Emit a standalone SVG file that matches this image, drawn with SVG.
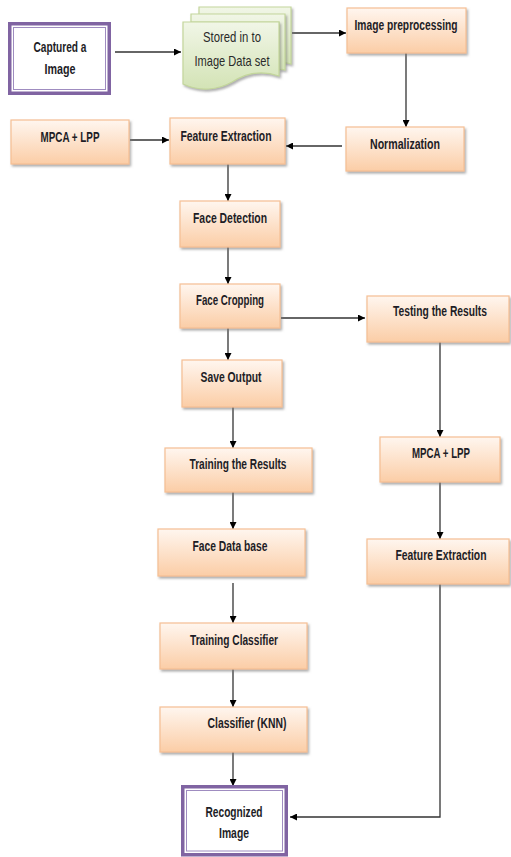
<svg xmlns="http://www.w3.org/2000/svg" width="511" height="857" viewBox="0 0 511 857">
<defs>
<style>
.box{fill:url(#og);stroke:#f6bf93;stroke-width:1.2;filter:url(#sh)}
.doc{fill:url(#gg);stroke:#c3d69b;stroke-width:1.2;filter:url(#sh)}
.t{font-family:"Liberation Sans",Arial,sans-serif;font-weight:bold;font-size:15px;fill:#1d1d26;text-anchor:middle}
.s{font-size:11.5px}
.n{font-weight:normal;fill:#2a2a2a}
.po{fill:#fff;stroke:#8064a2;stroke-width:3.5}
.pi{fill:none;stroke:#9f8cc0;stroke-width:1}
.c{fill:none;stroke:#333;stroke-width:1.3}
.a{marker-end:url(#ah)}
</style>
<linearGradient id="og" x1="0" y1="0" x2="0" y2="1">
<stop offset="0" stop-color="#fff6ef"/>
<stop offset="1" stop-color="#fbcda6"/>
</linearGradient>
<linearGradient id="gg" x1="0" y1="0" x2="0" y2="1">
<stop offset="0" stop-color="#f1f6e7"/>
<stop offset="1" stop-color="#d3e3b5"/>
</linearGradient>
<filter id="sh" x="-10%" y="-10%" width="130%" height="130%">
<feDropShadow dx="1.5" dy="2" stdDeviation="0.8" flood-color="#7a7a7a" flood-opacity="0.6"/>
</filter>
<marker id="ah" viewBox="0 0 10 10" refX="10" refY="5" markerWidth="7" markerHeight="7" markerUnits="userSpaceOnUse" orient="auto">
<path d="M0,0 L10,5 L0,10 Z" fill="#000"/>
</marker>
</defs>
<rect width="511" height="857" fill="#fff"/>

<g id="connectors">
<line class="c a" x1="115" y1="52" x2="181" y2="52"/>
<line class="c a" x1="292" y1="33" x2="346" y2="33"/>
<line class="c a" x1="406" y1="53" x2="406" y2="127"/>
<line class="c a" x1="342" y1="146" x2="286" y2="146"/>
<line class="c a" x1="130" y1="140" x2="169" y2="140"/>
<line class="c a" x1="228" y1="164" x2="228" y2="201"/>
<line class="c a" x1="228" y1="247" x2="228" y2="284"/>
<line class="c a" x1="281" y1="318" x2="365" y2="318"/>
<line class="c a" x1="228" y1="328" x2="228" y2="360"/>
<line class="c a" x1="233" y1="407" x2="233" y2="448"/>
<line class="c a" x1="233" y1="492" x2="233" y2="529"/>
<line class="c a" x1="233" y1="583" x2="233" y2="623"/>
<line class="c a" x1="233" y1="669" x2="233" y2="707"/>
<line class="c a" x1="233" y1="752" x2="233" y2="786"/>
<line class="c a" x1="440" y1="342" x2="440" y2="437"/>
<line class="c a" x1="440" y1="482" x2="440" y2="539"/>
<path class="c a" d="M440,584 V817 H290"/>
</g>

<g id="captured">
<rect class="po" x="9.75" y="23.75" width="99.5" height="69.5"/>
<rect class="pi" x="13.5" y="27.5" width="92" height="62"/>
<text class="t" x="60" y="52" textLength="53" lengthAdjust="spacingAndGlyphs">Captured a</text>
<text class="t" x="60" y="74" textLength="31" lengthAdjust="spacingAndGlyphs">Image</text>
</g>

<g id="stored">
<path class="doc" d="M199,7 H291 V64 C285,62 282,62 279,63 V22 H199 Z"/>
<path class="doc" d="M191,14 H285 V70 C282,69 281,69 279,70 V22 H191 Z"/>
<path class="doc" d="M183,22 H279 V76 C262,70 246,73 232,82 C218,90 200,92 183,84 Z"/>
<text class="t n" x="232" y="42" textLength="58" lengthAdjust="spacingAndGlyphs">Stored in to</text>
<text class="t n" x="232" y="66" textLength="75" lengthAdjust="spacingAndGlyphs">Image Data set</text>
</g>

<g id="preprocessing">
<rect class="box" x="347" y="8" width="119" height="45"/>
<text class="t" x="406" y="30" textLength="103" lengthAdjust="spacingAndGlyphs">Image preprocessing</text>
</g>

<g id="normalization">
<rect class="box" x="346" y="127" width="118" height="44"/>
<text class="t" x="405" y="149" textLength="70" lengthAdjust="spacingAndGlyphs">Normalization</text>
</g>

<g id="feature-extraction">
<rect class="box" x="170" y="118" width="115" height="46"/>
<text class="t" x="226" y="141" textLength="91" lengthAdjust="spacingAndGlyphs">Feature Extraction</text>
</g>

<g id="mpca-left">
<rect class="box" x="11" y="120" width="118" height="44"/>
<text class="t" x="70" y="142" textLength="59" lengthAdjust="spacingAndGlyphs">MPCA + LPP</text>
</g>

<g id="face-detection">
<rect class="box" x="180" y="201" width="100" height="46"/>
<text class="t" x="230" y="223" textLength="74" lengthAdjust="spacingAndGlyphs">Face Detection</text>
</g>

<g id="face-cropping">
<rect class="box" x="180" y="284" width="100" height="44"/>
<text class="t" x="230" y="305" textLength="68" lengthAdjust="spacingAndGlyphs">Face Cropping</text>
</g>

<g id="testing">
<rect class="box" x="367" y="296" width="142" height="46"/>
<text class="t s" transform="translate(440,316) scale(1,1.3)" x="0" y="0" textLength="94" lengthAdjust="spacingAndGlyphs">Testing the Results</text>
</g>

<g id="save-output">
<rect class="box" x="182" y="360" width="100" height="47"/>
<text class="t" x="231" y="382" textLength="61" lengthAdjust="spacingAndGlyphs">Save Output</text>
</g>

<g id="training-results">
<rect class="box" x="165" y="448" width="147" height="44"/>
<text class="t" x="238" y="469" textLength="97" lengthAdjust="spacingAndGlyphs">Training the Results</text>
</g>

<g id="face-database">
<rect class="box" x="158" y="529" width="147" height="47"/>
<text class="t" x="230" y="551" textLength="75" lengthAdjust="spacingAndGlyphs">Face Data base</text>
</g>

<g id="mpca-right">
<rect class="box" x="380" y="437" width="120" height="45"/>
<text class="t" x="441" y="458" textLength="58" lengthAdjust="spacingAndGlyphs">MPCA + LPP</text>
</g>

<g id="feature-extraction-right">
<rect class="box" x="367" y="539" width="142" height="45"/>
<text class="t s" transform="translate(441,560) scale(1,1.3)" x="0" y="0" textLength="91" lengthAdjust="spacingAndGlyphs">Feature Extraction</text>
</g>

<g id="training-classifier">
<rect class="box" x="160" y="623" width="147" height="46"/>
<text class="t" x="234" y="645" textLength="88" lengthAdjust="spacingAndGlyphs">Training Classifier</text>
</g>

<g id="classifier-knn">
<rect class="box" x="160" y="707" width="147" height="45"/>
<text class="t" x="247" y="728" textLength="79" lengthAdjust="spacingAndGlyphs">Classifier (KNN)</text>
</g>

<g id="recognized">
<rect class="po" x="182.75" y="786.75" width="103.5" height="68"/>
<rect class="pi" x="186.5" y="790.5" width="96" height="60.5"/>
<text class="t" x="234" y="817" textLength="57" lengthAdjust="spacingAndGlyphs">Recognized</text>
<text class="t" x="234" y="838" textLength="30" lengthAdjust="spacingAndGlyphs">Image</text>
</g>
</svg>
